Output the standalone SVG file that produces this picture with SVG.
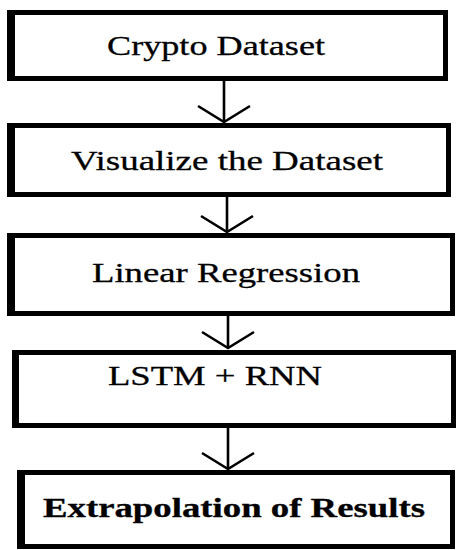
<svg xmlns="http://www.w3.org/2000/svg" width="457" height="550" viewBox="0 0 457 550">
<style>
.box{fill:#fff;stroke:#000;stroke-width:5}
.edge{fill:#000}
.lbl{font-family:"Liberation Serif","Times New Roman",serif;font-size:28px;fill:#000;text-anchor:middle;stroke:#000;stroke-width:0.3}
.b{font-weight:bold}
.conn{stroke:#000;stroke-width:2.6;fill:none}
</style>
<defs>
<marker id="chev" markerUnits="userSpaceOnUse" markerWidth="60" markerHeight="60" viewBox="-30 -30 60 60" refX="0" refY="0" orient="auto" overflow="visible">
<path d="M-16,-26 L0,0 L-16,26" fill="none" stroke="#000" stroke-width="2.6"/>
</marker>
</defs>
<rect width="457" height="550" fill="#fff"/>
<g id="connectors">
<line class="conn" x1="224" y1="81" x2="224" y2="122" marker-end="url(#chev)"/>
<line class="conn" x1="227" y1="197" x2="227" y2="232" marker-end="url(#chev)"/>
<line class="conn" x1="228" y1="316" x2="228" y2="348" marker-end="url(#chev)"/>
<line class="conn" x1="228" y1="428" x2="228" y2="469" marker-end="url(#chev)"/>
</g>
<g id="node1">
<rect class="box" x="9.5" y="12.5" width="436" height="66"/>
<rect class="edge" x="7" y="10" width="8" height="71"/>
<text class="lbl" x="216" y="54.5" textLength="218" lengthAdjust="spacingAndGlyphs">Crypto Dataset</text>
</g>
<g id="node2">
<rect class="box" x="9.5" y="125.5" width="439" height="69"/>
<rect class="edge" x="7" y="123" width="8" height="74"/>
<text class="lbl" x="227" y="169.5" textLength="312" lengthAdjust="spacingAndGlyphs">Visualize the Dataset</text>
</g>
<g id="node3">
<rect class="box" x="9.5" y="235.5" width="443" height="78"/>
<rect class="edge" x="7" y="233" width="8" height="83"/>
<text class="lbl" x="226" y="282" textLength="268" lengthAdjust="spacingAndGlyphs">Linear Regression</text>
</g>
<g id="node4">
<rect class="box" x="14.5" y="352.5" width="439" height="73"/>
<rect class="edge" x="12" y="350" width="7" height="78"/>
<text class="lbl" x="215" y="385" textLength="214" lengthAdjust="spacingAndGlyphs">LSTM + RNN</text>
</g>
<g id="node5">
<rect class="box" x="19.5" y="472.5" width="433" height="74"/>
<rect class="edge" x="17" y="470" width="8" height="79"/>
<text class="lbl b" x="234" y="517" textLength="382" lengthAdjust="spacingAndGlyphs">Extrapolation of Results</text>
</g>
</svg>
